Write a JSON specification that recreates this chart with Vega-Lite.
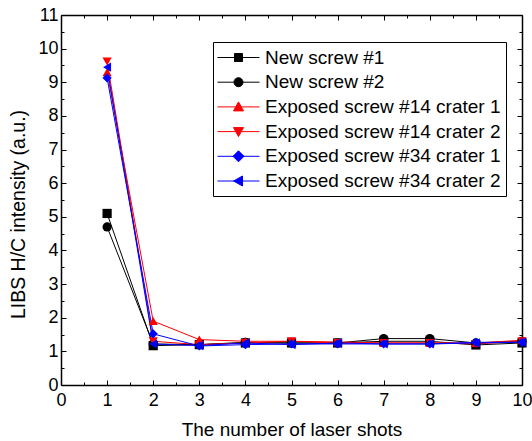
{
  "$schema": "https://vega.github.io/schema/vega-lite/v6.json",
  "width": 461,
  "height": 370,
  "autosize": "none",
  "padding": {"left": 61, "top": 15, "right": 10, "bottom": 56},
  "background": "white",
  "config": {
    "view": {"stroke": null},
    "font": "Liberation Sans",
    "axis": {
      "labelFont": "Liberation Sans",
      "titleFont": "Liberation Sans",
      "labelFontSize": 18,
      "titleFontSize": 19,
      "titleFontWeight": "normal",
      "labelColor": "#000",
      "titleColor": "#000",
      "domainColor": "#000",
      "tickColor": "#000",
      "grid": false,
      "domainWidth": 1.5,
      "tickWidth": 1
    },
    "legend": {
      "orient": "none",
      "legendX": 152,
      "legendY": 27,
      "strokeColor": "#000",
      "fillColor": "white",
      "padding": 5,
      "labelFont": "Liberation Sans",
      "labelFontSize": 19,
      "labelColor": "#000",
      "labelLimit": 0,
      "symbolSize": 400,
      "symbolOffset": 10,
      "labelOffset": 16,
      "rowPadding": 3.7,
      "title": null
    }
  },
  "data": {
    "values": [
      {"series": "New screw #1", "shot": 1, "value": 5.1},
      {"series": "New screw #1", "shot": 2, "value": 1.17},
      {"series": "New screw #1", "shot": 3, "value": 1.2},
      {"series": "New screw #1", "shot": 4, "value": 1.25},
      {"series": "New screw #1", "shot": 5, "value": 1.25},
      {"series": "New screw #1", "shot": 6, "value": 1.25},
      {"series": "New screw #1", "shot": 7, "value": 1.3},
      {"series": "New screw #1", "shot": 8, "value": 1.3},
      {"series": "New screw #1", "shot": 9, "value": 1.19},
      {"series": "New screw #1", "shot": 10, "value": 1.25},
      {"series": "New screw #2", "shot": 1, "value": 4.7},
      {"series": "New screw #2", "shot": 2, "value": 1.22},
      {"series": "New screw #2", "shot": 3, "value": 1.2},
      {"series": "New screw #2", "shot": 4, "value": 1.27},
      {"series": "New screw #2", "shot": 5, "value": 1.25},
      {"series": "New screw #2", "shot": 6, "value": 1.25},
      {"series": "New screw #2", "shot": 7, "value": 1.38},
      {"series": "New screw #2", "shot": 8, "value": 1.38},
      {"series": "New screw #2", "shot": 9, "value": 1.25},
      {"series": "New screw #2", "shot": 10, "value": 1.3},
      {"series": "Exposed screw #14 crater 1", "shot": 1, "value": 9.3},
      {"series": "Exposed screw #14 crater 1", "shot": 2, "value": 1.9},
      {"series": "Exposed screw #14 crater 1", "shot": 3, "value": 1.35},
      {"series": "Exposed screw #14 crater 1", "shot": 4, "value": 1.3},
      {"series": "Exposed screw #14 crater 1", "shot": 5, "value": 1.3},
      {"series": "Exposed screw #14 crater 1", "shot": 6, "value": 1.28},
      {"series": "Exposed screw #14 crater 1", "shot": 7, "value": 1.25},
      {"series": "Exposed screw #14 crater 1", "shot": 8, "value": 1.25},
      {"series": "Exposed screw #14 crater 1", "shot": 9, "value": 1.25},
      {"series": "Exposed screw #14 crater 1", "shot": 10, "value": 1.33},
      {"series": "Exposed screw #14 crater 2", "shot": 1, "value": 9.62},
      {"series": "Exposed screw #14 crater 2", "shot": 2, "value": 1.3},
      {"series": "Exposed screw #14 crater 2", "shot": 3, "value": 1.2},
      {"series": "Exposed screw #14 crater 2", "shot": 4, "value": 1.25},
      {"series": "Exposed screw #14 crater 2", "shot": 5, "value": 1.3},
      {"series": "Exposed screw #14 crater 2", "shot": 6, "value": 1.25},
      {"series": "Exposed screw #14 crater 2", "shot": 7, "value": 1.25},
      {"series": "Exposed screw #14 crater 2", "shot": 8, "value": 1.25},
      {"series": "Exposed screw #14 crater 2", "shot": 9, "value": 1.22},
      {"series": "Exposed screw #14 crater 2", "shot": 10, "value": 1.3},
      {"series": "Exposed screw #34 crater 1", "shot": 1, "value": 9.13},
      {"series": "Exposed screw #34 crater 1", "shot": 2, "value": 1.52},
      {"series": "Exposed screw #34 crater 1", "shot": 3, "value": 1.16},
      {"series": "Exposed screw #34 crater 1", "shot": 4, "value": 1.2},
      {"series": "Exposed screw #34 crater 1", "shot": 5, "value": 1.22},
      {"series": "Exposed screw #34 crater 1", "shot": 6, "value": 1.22},
      {"series": "Exposed screw #34 crater 1", "shot": 7, "value": 1.22},
      {"series": "Exposed screw #34 crater 1", "shot": 8, "value": 1.22},
      {"series": "Exposed screw #34 crater 1", "shot": 9, "value": 1.27},
      {"series": "Exposed screw #34 crater 1", "shot": 10, "value": 1.27},
      {"series": "Exposed screw #34 crater 2", "shot": 1, "value": 9.45},
      {"series": "Exposed screw #34 crater 2", "shot": 2, "value": 1.22},
      {"series": "Exposed screw #34 crater 2", "shot": 3, "value": 1.17},
      {"series": "Exposed screw #34 crater 2", "shot": 4, "value": 1.25},
      {"series": "Exposed screw #34 crater 2", "shot": 5, "value": 1.2},
      {"series": "Exposed screw #34 crater 2", "shot": 6, "value": 1.25},
      {"series": "Exposed screw #34 crater 2", "shot": 7, "value": 1.22},
      {"series": "Exposed screw #34 crater 2", "shot": 8, "value": 1.22},
      {"series": "Exposed screw #34 crater 2", "shot": 9, "value": 1.25},
      {"series": "Exposed screw #34 crater 2", "shot": 10, "value": 1.27}
    ]
  },
  "layer": [
    {
      "mark": {"type": "line", "strokeWidth": 1},
      "encoding": {
        "x": {"field": "shot", "type": "quantitative", "scale": {"domain": [0, 10], "nice": false},
          "axis": {"orient": "bottom", "values": [0,1,2,3,4,5,6,7,8,9,10], "tickSize": -5, "labelPadding": 11, "labelFlush": false, "labelOverlap": false, "title": "The number of laser shots", "titlePadding": 11}},
        "y": {"field": "value", "type": "quantitative", "scale": {"domain": [0, 11], "nice": false},
          "axis": {"orient": "left", "values": [0,1,2,3,4,5,6,7,8,9,10,11], "tickSize": -5, "labelPadding": 8, "labelFlush": false, "labelOverlap": false, "title": "LIBS H/C intensity (a.u.)", "titleFontSize": 19.5, "titleY": 199, "titlePadding": 9}},
        "color": {"field": "series", "type": "nominal",
          "scale": {"domain": ["New screw #1", "New screw #2", "Exposed screw #14 crater 1", "Exposed screw #14 crater 2", "Exposed screw #34 crater 1", "Exposed screw #34 crater 2"],
                    "range": ["#000000", "#000000", "#ff0000", "#ff0000", "#0000ff", "#0000ff"]},
          "legend": {
            "encode": {
              "symbols": {
                "update": {
                  "shape": {"signal": "['M-2.1,0H2.1M-0.4,-0.4H0.4V0.4H-0.4Z','M-2.1,0H2.1M-0.45,0A0.45,0.45,0,1,0,0.45,0A0.45,0.45,0,1,0,-0.45,0Z','M-2.1,0H2.1M0,-0.5L0.5,0.4L-0.5,0.4Z','M-2.1,0H2.1M0,0.5L0.5,-0.4L-0.5,-0.4Z','M-2.1,0H2.1M0,-0.55L0.55,0L0,0.55L-0.55,0Z','M-2.1,0H2.1M-0.5,0L0.4,-0.5L0.4,0.5Z'][indexof(['New screw #1','New screw #2','Exposed screw #14 crater 1','Exposed screw #14 crater 2','Exposed screw #34 crater 1','Exposed screw #34 crater 2'], datum.value)]"},
                  "stroke": {"signal": "scale('color', datum.value)"},
                  "fill": {"signal": "scale('color', datum.value)"},
                  "strokeWidth": {"value": 1}
                }
              }
            }
          }
        }
      }
    },
    {
      "mark": {"type": "point", "filled": true, "size": 85, "opacity": 1},
      "encoding": {
        "x": {"field": "shot", "type": "quantitative",
          "axis": {"orient": "top", "values": [0,1,2,3,4,5,6,7,8,9,10], "tickSize": -5, "labels": false, "title": null}},
        "y": {"field": "value", "type": "quantitative",
          "axis": {"orient": "right", "values": [0,1,2,3,4,5,6,7,8,9,10,11], "tickSize": -5, "labels": false, "title": null}},
        "color": {"field": "series", "type": "nominal",
          "legend": {
            "encode": {
              "symbols": {
                "update": {
                  "shape": {"signal": "['M-2.1,0H2.1M-0.4,-0.4H0.4V0.4H-0.4Z','M-2.1,0H2.1M-0.45,0A0.45,0.45,0,1,0,0.45,0A0.45,0.45,0,1,0,-0.45,0Z','M-2.1,0H2.1M0,-0.5L0.5,0.4L-0.5,0.4Z','M-2.1,0H2.1M0,0.5L0.5,-0.4L-0.5,-0.4Z','M-2.1,0H2.1M0,-0.55L0.55,0L0,0.55L-0.55,0Z','M-2.1,0H2.1M-0.5,0L0.4,-0.5L0.4,0.5Z'][indexof(['New screw #1','New screw #2','Exposed screw #14 crater 1','Exposed screw #14 crater 2','Exposed screw #34 crater 1','Exposed screw #34 crater 2'], datum.value)]"},
                  "stroke": {"signal": "scale('color', datum.value)"},
                  "fill": {"signal": "scale('color', datum.value)"},
                  "strokeWidth": {"value": 1}
                }
              }
            }
          }
        },
        "shape": {"field": "series", "type": "nominal", "legend": null,
          "scale": {"domain": ["Exposed screw #34 crater 2", "Exposed screw #34 crater 1", "Exposed screw #14 crater 2", "Exposed screw #14 crater 1", "New screw #2", "New screw #1"],
                    "range": ["triangle-left", "diamond", "triangle-down", "triangle-up", "circle", "square"]}}
      }
    },
    {
      "mark": {"type": "point", "opacity": 0},
      "encoding": {
        "x": {"field": "shot", "type": "quantitative",
          "axis": {"orient": "bottom", "values": [0.5,1.5,2.5,3.5,4.5,5.5,6.5,7.5,8.5,9.5], "tickSize": -3, "labels": false, "domain": false, "title": null}},
        "y": {"field": "value", "type": "quantitative",
          "axis": {"orient": "left", "values": [0.5,1.5,2.5,3.5,4.5,5.5,6.5,7.5,8.5,9.5,10.5], "tickSize": -3, "labels": false, "domain": false, "title": null}}
      }
    },
    {
      "mark": {"type": "point", "opacity": 0},
      "encoding": {
        "x": {"field": "shot", "type": "quantitative",
          "axis": {"orient": "top", "values": [0.5,1.5,2.5,3.5,4.5,5.5,6.5,7.5,8.5,9.5], "tickSize": -3, "labels": false, "domain": false, "title": null}},
        "y": {"field": "value", "type": "quantitative",
          "axis": {"orient": "right", "values": [0.5,1.5,2.5,3.5,4.5,5.5,6.5,7.5,8.5,9.5,10.5], "tickSize": -3, "labels": false, "domain": false, "title": null}}
      }
    }
  ],
  "resolve": {"axis": {"x": "independent", "y": "independent"}}
}
